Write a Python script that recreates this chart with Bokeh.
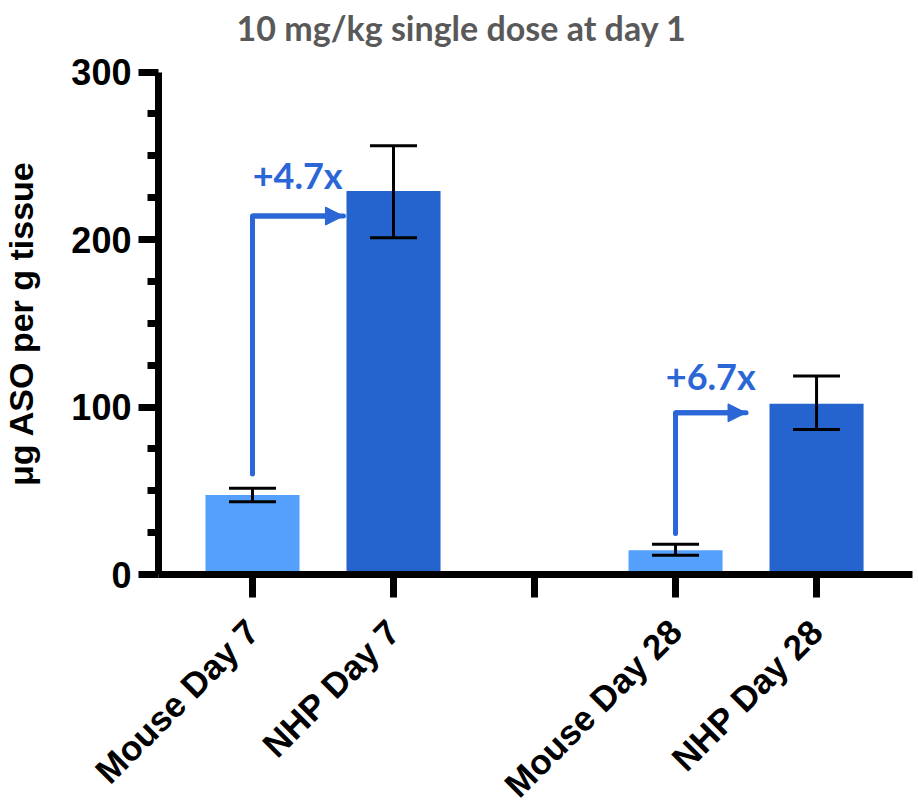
import math
from bokeh.plotting import figure
from bokeh.models import (Range1d, FixedTicker, Whisker, TeeHead, ColumnDataSource,
                          Arrow, NormalHead)
from bokeh.core.properties import value
from bokeh.embed import file_html
from bokeh.resources import INLINE

# ---- data ----
categories = ["Mouse Day 7", "NHP Day 7", "Mouse Day 28", "NHP Day 28"]
positions = [0, 1, 3, 4]
means = [47.5, 229, 14.5, 102]
err_low = [43.5, 201, 11.5, 86.5]
err_high = [51.5, 256, 18, 118.5]
colors = ["#56A0FD", "#2563CF", "#56A0FD", "#2563CF"]

fold_labels = ["+4.7x", "+6.7x"]
arrow_from_x = [0, 3]
arrow_from_y = [60, 24.5]
arrow_turn_y = [214, 96.5]
arrow_to_x = [0.645, 3.5]
label_x = [0.32, 3.25]
label_y = [238.5, 118.5]

y_ticks = [0, 100, 200, 300]
y_minor = [25, 50, 75, 125, 150, 175, 225, 250, 275]
x_ticks = [0, 1, 2, 3, 4]
x_tick_labels = ["Mouse Day 7", "NHP Day 7", "", "Mouse Day 28", "NHP Day 28"]

title_text = "10 mg/kg single dose at day 1"
y_label = "\u03bcg ASO per g tissue"

ACCENT = "#2A66D6"
X_AXIS_LO, X_AXIS_HI = -0.667, 4.68   # extent of the drawn x axis
X_LEFT, X_RIGHT = -1.787, 4.723        # room at the left for y labels
Y_TOP = 342.7                          # headroom above 300 for the title
Y_BOTTOM = -140.9                      # room below 0 for the category labels

p = figure(width=918, height=810, output_backend="svg", toolbar_location=None,
           x_range=Range1d(X_LEFT, X_RIGHT), y_range=Range1d(Y_BOTTOM, Y_TOP),
           min_border_left=0, min_border_right=0, min_border_top=0,
           min_border_bottom=0)
p.outline_line_color = None
p.xgrid.visible = False
p.ygrid.visible = False
p.background_fill_color = "white"
p.border_fill_color = "white"

# title, drawn inside the headroom of the frame
p.text(x=[-0.113], y=[326.6], text=[title_text], text_font=value("Lato"),
       text_font_style="bold", text_font_size="34px", text_color="#595959",
       text_align="left", text_baseline="alphabetic")

src = ColumnDataSource(dict(x=positions, top=means, lower=err_low, upper=err_high,
                            color=colors, cat=categories))
p.vbar(x="x", top="top", width=0.667, bottom=0, color="color", line_color=None, source=src)

w = Whisker(source=src, base="x", upper="upper", lower="lower",
            line_width=3, line_color="black", level="overlay",
            upper_head=TeeHead(size=47, line_width=3, line_color="black"),
            lower_head=TeeHead(size=47, line_width=3, line_color="black"))
p.add_layout(w)

# fold-change arrows
xs = [[fx, fx, tx] for fx, tx in zip(arrow_from_x, arrow_to_x)]
ys = [[fy, ty, ty] for fy, ty in zip(arrow_from_y, arrow_turn_y)]
p.multi_line(xs=xs, ys=ys, line_color=ACCENT, line_width=5,
             line_join="round", line_cap="round")
for fx, tx, ty in zip(arrow_from_x, arrow_to_x, arrow_turn_y):
    p.add_layout(Arrow(end=NormalHead(size=18, fill_color=ACCENT, line_color=ACCENT),
                       x_start=fx, y_start=ty, x_end=tx, y_end=ty,
                       line_color=ACCENT, line_width=5))

p.text(x=label_x, y=label_y, text=fold_labels, text_font=value("Lato"),
       text_font_style="bold", text_font_size="36px", text_color=ACCENT,
       text_align="center", text_baseline="middle")

# axes
ya = p.yaxis[0]
ya.ticker = FixedTicker(ticks=y_ticks, minor_ticks=y_minor)
ya.bounds = (0, 300)
ya.fixed_location = X_AXIS_LO
ya.axis_line_width = 7
ya.major_tick_line_width = 7
ya.minor_tick_line_width = 7
ya.major_tick_out = 20
ya.major_tick_in = 0
ya.minor_tick_out = 11
ya.minor_tick_in = 0
ya.major_label_text_font = "Liberation Sans"
ya.major_label_text_font_style = "bold"
ya.major_label_text_font_size = "36px"
ya.major_label_text_color = "black"
ya.major_label_standoff = 7
ya.axis_label = y_label
ya.axis_label_text_font = "Liberation Sans"
ya.axis_label_text_font_style = "bold"
ya.axis_label_text_font_size = "34px"
ya.axis_label_text_color = "black"
ya.axis_label_standoff = 28

xa = p.xaxis[0]
xa.ticker = FixedTicker(ticks=x_ticks, minor_ticks=[])
xa.major_label_overrides = {t: lab for t, lab in zip(x_ticks, x_tick_labels)}
xa.fixed_location = 0
xa.bounds = (X_AXIS_LO, X_AXIS_HI)
xa.axis_line_width = 7
xa.major_tick_line_width = 7
xa.major_tick_out = 23
xa.major_tick_in = 0
xa.minor_tick_line_color = None
xa.major_label_orientation = math.pi / 4
xa.major_label_text_font = "Liberation Sans"
xa.major_label_text_font_style = "bold"
xa.major_label_text_font_size = "35px"
xa.major_label_text_color = "black"
xa.major_label_standoff = 28

open("out.html", "w").write(file_html(p, INLINE))
